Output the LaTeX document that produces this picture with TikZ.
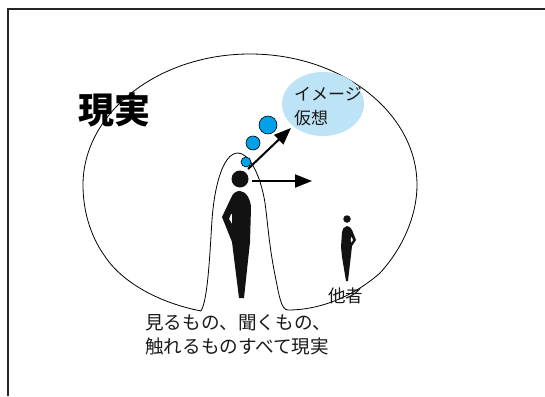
\documentclass[tikz,border=0pt]{standalone}
\usepackage{fontspec}
\setmainfont{Noto Sans CJK JP}
\usetikzlibrary{arrows.meta}
\tikzset{
  thought/.style={circle,draw=black,line width=0.6pt,fill=thoughtblue,inner sep=0pt},
  head/.style={circle,fill=black!93,inner sep=0pt},
  silhouette/.style={fill=black!93,draw=none},
  gaze/.style={line width=2pt,-{Triangle[length=17pt,width=13pt]},black},
  label/.style={inner sep=0pt,anchor=west,align=left,text=black!90},
}
\definecolor{thoughtblue}{HTML}{00A0E9}
\definecolor{imagepale}{HTML}{BDE3F6}
\begin{document}
\begin{tikzpicture}[x=1pt,y=-1pt]
\useasboundingbox (0,0) rectangle (545,396);
\fill[white] (0,0) rectangle (545,396);
% frame
\draw[line width=2pt,black!85] (7.5,396) -- (7.5,9.5) -- (545,9.5);
% reality outline
\draw[line width=0.8pt,black]
  (201,311)
  .. controls (160,303) and (122,283) .. (104,255)
  .. controls (90,235) and (83,210) .. (83,185)
  .. controls (83,113) and (158,54) .. (250,54)
  .. controls (342,54) and (417,113) .. (417,185)
  .. controls (417,215) and (403,248) .. (380,273)
  .. controls (355,295) and (322,310) .. (288,310)
  .. controls (281,310) and (279,295) .. (275,275)
  .. controls (269,245) and (268,225) .. (265,203)
  .. controls (260,172) and (248,153) .. (238,153)
  .. controls (222,153) and (214,190) .. (212,220)
  .. controls (210,250) and (208,300) .. (201,311);
% image ellipse
\fill[imagepale] (323,104) ellipse [x radius=41, y radius=32];
% thought bubbles
\node[thought,minimum size=18pt] (b3) at (268,125) {};
\node[thought,minimum size=14pt] (b2) at (253,143) {};
\node[thought,minimum size=10pt] (b1) at (246,162) {};
% main person
\node[head,minimum size=17pt] (h1) at (240,179) {};
\fill[silhouette,even odd rule]
  (240,191) .. controls (236,191) and (233,193) .. (231,198)
  -- (222,217) -- (232,242) -- (239,298) -- (244,298) -- (250,242)
  -- (251,208) .. controls (251,200) and (246,191) .. (240,191) -- cycle
  (231,214) -- (229,219) -- (232,224) -- (232,214) -- cycle;
% other person
\node[head,minimum size=7.5pt] (h2) at (347,219) {};
\fill[silhouette,even odd rule]
  (347,226) .. controls (344,227) and (342,229) .. (342,232)
  -- (341,247) -- (342,257) -- (346,281) -- (348,281) -- (351,255)
  -- (352,246) -- (356,240) -- (352,230) .. controls (351,228) and (349,226) .. (347,226) -- cycle
  (351.5,236) -- (350.5,240) -- (351.5,243) -- (353,240) -- cycle;
% arrows
\coordinate (a1s) at (248,169);
\coordinate (a1e) at (291,128);
\coordinate (a2s) at (252,181);
\coordinate (a2e) at (312,181);
\draw[gaze] (a1s) -- (a1e);
\draw[gaze] (a2s) -- (a2e);
% text
\node[label,font=\fontsize{17}{24}\selectfont] (t1) at (294,106) {イメージ\\仮想};
\node[label,font=\fontsize{36}{36}\selectfont\bfseries,text=black] (t2) at (78,110) {現実};
\node[label,font=\fontsize{17.5}{17.5}\selectfont] (t3) at (328,296) {他者};
\node[label,font=\fontsize{18.6}{24}\selectfont] (t4) at (145,335) {見るもの、聞くもの、\\触れるものすべて現実};
\end{tikzpicture}
\end{document}
